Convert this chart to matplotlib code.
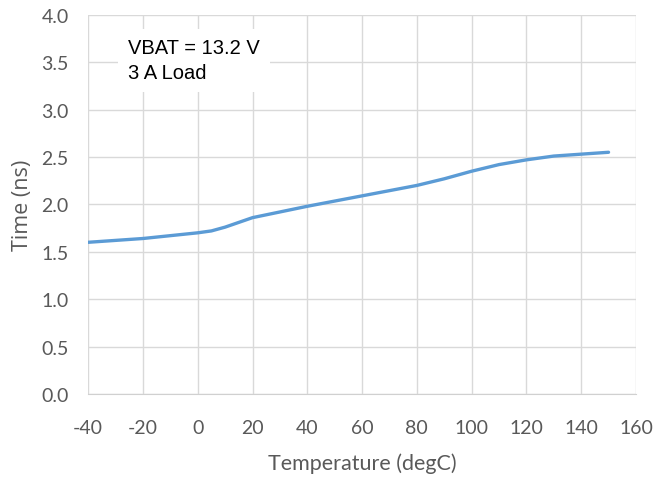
import matplotlib
matplotlib.use("Agg")
import matplotlib.pyplot as plt

# values
temps = [-40, -20, 0, 5, 10, 15, 20, 30, 40, 60, 80, 90, 100, 110, 120, 130, 140, 150]
times = [1.60, 1.64, 1.70, 1.72, 1.76, 1.81, 1.86, 1.92, 1.98, 2.09, 2.20, 2.27, 2.35, 2.42, 2.47, 2.51, 2.53, 2.55]

x_ticks = list(range(-40, 161, 20))
y_ticks = [0.0, 0.5, 1.0, 1.5, 2.0, 2.5, 3.0, 3.5, 4.0]
note = "VBAT = 13.2 V\n3 A Load"

tick_font = "Lato"

fig = plt.figure(figsize=(6.68, 4.81), dpi=100)
ax = fig.add_axes([0.132, 0.179, 0.820, 0.788])

ax.plot(temps, times, color="#5b9bd5", linewidth=2.4, solid_capstyle="round",
        solid_joinstyle="round")

ax.set_xlim(-40, 160)
ax.set_ylim(0, 4.0)
ax.set_xticks(x_ticks)
ax.set_yticks(y_ticks)
ax.set_xticklabels([str(t) for t in x_ticks], fontsize=14, color="#595959", family=tick_font)
ax.set_yticklabels([f"{v:.1f}" for v in y_ticks], fontsize=14, color="#595959", family=tick_font)
ax.tick_params(axis="x", length=0, pad=18)
ax.tick_params(axis="y", length=0, pad=14)

ax.grid(True, color="#d9d9d9", linewidth=1)
ax.set_axisbelow(True)
for side in ["top", "right", "left"]:
    ax.spines[side].set_visible(False)
ax.spines["bottom"].set_color("#d0d0d0")

ax.set_xlabel("Temperature (degC)", fontsize=15.5, color="#595959", family=tick_font, labelpad=12)
ax.set_ylabel("Time (ns)", fontsize=15.5, color="#595959", family="Open Sans",
              fontweight="medium", labelpad=6)

ax.text(-25.4, 3.52, note, fontsize=14.5, family="Liberation Sans", color="black",
        va="center", ha="left", linespacing=1.4,
        bbox=dict(facecolor="white", edgecolor="none", pad=7))

fig.savefig("out.png", dpi=100)
